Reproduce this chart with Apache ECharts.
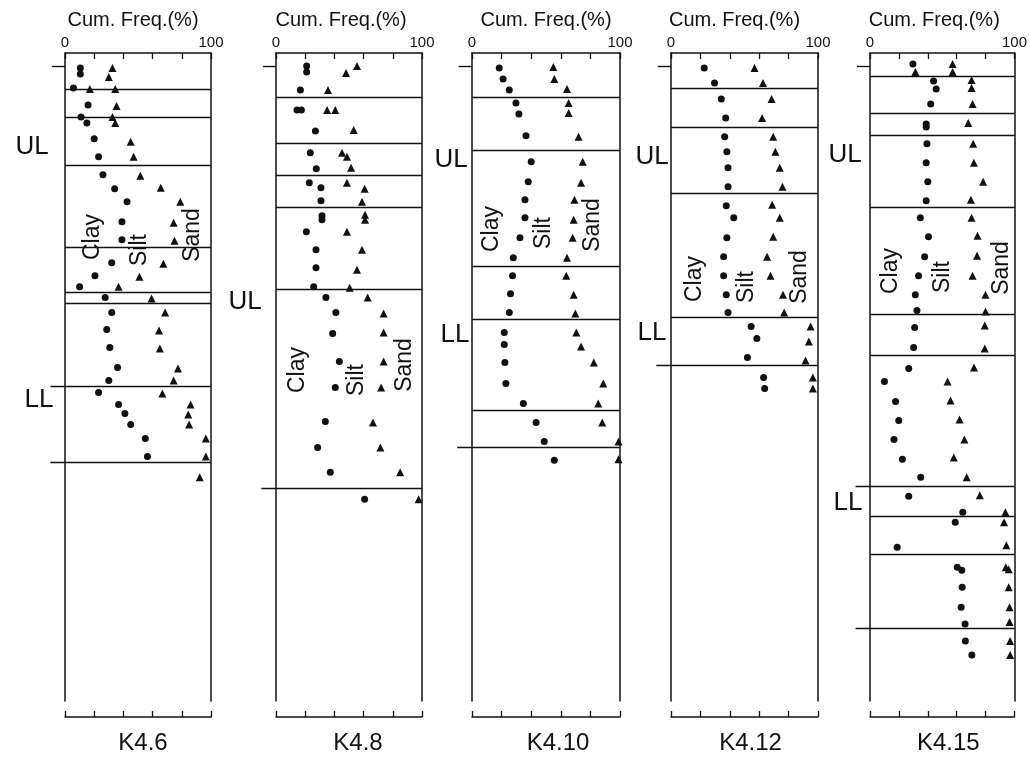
<!DOCTYPE html>
<html>
<head>
<meta charset="utf-8">
<script src="https://cdn.jsdelivr.net/npm/echarts@6/dist/echarts.min.js"></script>
<style>
html,body{margin:0;padding:0;background:#fff;}
#c{width:1030px;height:760px;}
</style>
</head>
<body>
<div id="c"></div>
<script>
// ---- Data: [cumulative frequency %, depth (arbitrary units from top mark)] ----
const cores = ['K4.6', 'K4.8', 'K4.10', 'K4.12', 'K4.15'];

const k46Clay = [[10.5,0.5],[10.5,2],[5.8,5.5],[15.8,9.75],[11,12.75],[15,14.25],[20,18.25],[23,22.75],[26,27.25],[34,30.75],[42.5,34],[39,39],[39,43.5],[32,49.25],[20.5,52.5],[10,55.25],[27.5,58],[32,61.75],[28.6,66],[30.7,70.5],[36,75.5],[30,78.75],[23,81.75],[36.7,84.75],[41,87],[45,89.75],[55,93.25],[56.5,97.75]];
const k46Silt = [[32.5,0.5],[30,2.75],[17,5.75],[34.4,5.75],[35.3,10],[32.5,12.75],[34.4,14.25],[45,19],[47,22.75],[51.6,27.5],[65.6,30.5],[79,34],[74.4,39.25],[75,43.75],[67.4,49.5],[51,52.75],[36.7,55.25],[59.3,58.25],[68.6,61.75],[64.4,66.25],[65,70.75],[77.4,75.75],[74.4,78.75],[66.7,82],[86,84.75],[84.4,87.25],[85,89.75],[96.5,93.25],[96.5,97.75],[92.3,103]];
const k46Layers = [5.75, 12.75, 24.75, 45.5, 56.75, 59.5];
const k46Marks = [80.25, 99.25];

const k48Clay = [[21,0],[21,1.5],[16.7,6],[14.4,11],[17.4,11],[27,16.25],[23.5,21.75],[27.6,25.75],[22.8,29.25],[30.8,30.5],[30.8,33.75],[31.5,37.5],[31.5,38.5],[20.8,41.5],[27.4,46],[27.4,50.5],[25.8,55.25],[34.2,58],[41,61.75],[38.8,67],[43.4,74],[40.6,80.5],[33.8,89],[28.5,95.5],[37.2,101.75],[60.7,108.5]];
const k48Silt = [[55.5,0],[48,1.75],[35.6,6],[35,11],[40.6,11],[53.2,16],[45.2,21.75],[48.6,22.75],[51.4,25.5],[48.6,29.25],[60.7,30.75],[58.9,34],[61,37.25],[61,38.5],[48.6,41.5],[58.9,46],[55.5,51],[50.5,55.5],[62.8,58],[73.7,62],[73.7,66.75],[73.7,74],[72,80.5],[66.4,89.25],[71.5,95.5],[85,101.75],[97.7,108.5]];
const k48Layers = [7.75, 19.25, 27.25, 35.25, 56];
const k48Marks = [105.75];

const k410Clay = [[18.4,0.5],[21,3.25],[25.2,6],[29.7,9.25],[31.7,12],[36.5,17.5],[40,24],[38,29],[35.8,33.5],[35.8,38],[32.4,43],[27.9,48],[27.4,52.5],[26,57],[25.2,61.75],[21.8,66.75],[21.8,69.75],[22.2,74.25],[22.9,79.5],[34.7,84.5],[43.3,89.25],[48.8,94],[55.6,98.75]];
const k410Silt = [[55,0.25],[55.6,3.25],[64.2,5.75],[65.3,9.25],[65.3,11.75],[72,17.75],[74.8,24],[73.7,29.25],[69.2,33.5],[68.7,38.5],[68,43],[64.2,48],[63.7,52.5],[68.7,57.25],[69.8,62],[70.5,66.75],[73.7,70.25],[82.3,74.25],[88.7,79.5],[85.3,84.5],[88,89.25],[99,94],[99,98.5]];
const k410Layers = [7.75, 21, 50.25, 63.5, 86.25];
const k410Marks = [95.5];

const k412Clay = [[22.6,0.5],[29.6,4.25],[34.2,8.25],[37.2,13],[36.5,17.75],[38,21.5],[38.8,25.5],[38.8,30.25],[37.6,35],[42.7,38],[38,43],[35.8,47.75],[35.8,52.5],[37.6,57.25],[38.8,61.75],[54.5,65.25],[58.4,68.25],[52,73],[63,78],[63.7,80.75]];
const k412Silt = [[56.8,0.5],[62.6,4.25],[68.4,8.25],[62,13],[69.5,17.75],[71,21.5],[74,25.5],[75.8,30.25],[68.8,34.75],[74,38],[69.5,42.75],[65.4,47.75],[67.7,52.5],[76.2,57.25],[77,61.75],[95,65.25],[93.8,69],[91.5,73.75],[96.5,78],[96.5,80.75]];
const k412Layers = [5.5, 15.25, 31.75, 63];
const k412Marks = [75];

const k415Clay = [[29.7,-0.5],[44,3.75],[45.8,5.75],[42,9.5],[38.9,14.5],[38.9,15.25],[39.4,19.5],[38.9,24.25],[40,29],[38.9,33.75],[34.8,38],[40.5,42.75],[37.8,47.75],[33.6,52.5],[31.4,57.25],[32.5,61.25],[30.9,65.5],[30.2,70.5],[26.8,75.75],[10,79],[17.7,84],[19.9,88.75],[16.6,93.5],[22.4,98.5],[35.1,103],[26.8,107.75],[64.2,111.75],[59,114.25],[18.8,120.5],[60.4,125.5],[63.5,126.25],[63.8,130.5],[63.1,135.5],[65.8,139.75],[66,144],[70.5,147.5]];
const k415Silt = [[31.4,1.5],[57.2,-0.5],[57.2,1.5],[70.3,3.5],[70.3,5.5],[71,9.5],[68,14.25],[71.4,19.5],[71.9,24.25],[78.3,29],[69.8,33.5],[70.3,38],[74.4,42.5],[74.1,47.5],[71,52.5],[79.9,57.25],[80,61.5],[79.4,65],[79.4,70.75],[72,75.5],[53.7,79],[55.7,83.75],[62,88.5],[65.3,93.5],[58,98],[66.9,103],[76,107.5],[93.7,111.75],[92.8,114.25],[94.4,120],[94,125.5],[96,126],[96,130.5],[96.6,135.5],[96.6,139.25],[97,144],[97,147.5]];
const k415Layers = [2.5, 11.75, 17.25, 35.25, 62.25, 72.5, 112.75, 122.25];
const k415Marks = [105.25, 140.75];

const freqTicks = [0, 100];

// ---- Layout ----
const panels = [
  {clay: k46Clay,  silt: k46Silt,  layers: k46Layers,  marks: k46Marks,  left: 65,  width: 146, tShift: -5,  bShift: 5},
  {clay: k48Clay,  silt: k48Silt,  layers: k48Layers,  marks: k48Marks,  left: 276, width: 146, tShift: -8,  bShift: 9},
  {clay: k410Clay, silt: k410Silt, layers: k410Layers, marks: k410Marks, left: 472, width: 148, tShift: 0,   bShift: 12},
  {clay: k412Clay, silt: k412Silt, layers: k412Layers, marks: k412Marks, left: 671, width: 147, tShift: -10, bShift: 6},
  {clay: k415Clay, silt: k415Silt, layers: k415Layers, marks: k415Marks, left: 870, width: 148, tShift: -8,  bShift: 6}
];
const INK = '#111';
const FONT = 'Liberation Sans, Arial, sans-serif';
const shiftPad = s => s < 0 ? [0, -2 * s, 0, 0] : [0, 0, 0, 2 * s];

const grid = [], xAxis = [], yAxis = [], series = [];
panels.forEach((p, i) => {
  grid.push({left: p.left, top: 53, width: p.width, height: 649, containLabel: false});
  xAxis.push({
    gridIndex: i, type: 'value', position: 'top', min: 0, max: 100, interval: 20,
    axisLine: {show: true, onZero: false, lineStyle: {color: INK, width: 1.5}},
    axisTick: {show: true, inside: true, length: 6, lineStyle: {color: INK, width: 1.3}},
    axisLabel: {show: true, margin: 3, color: INK, fontSize: 15, fontFamily: FONT,
      formatter: v => freqTicks.indexOf(v) >= 0 ? String(v) : ''},
    splitLine: {show: false},
    name: 'Cum. Freq.(%)', nameLocation: 'middle', nameGap: 20,
    nameTextStyle: {color: INK, fontSize: 20, fontFamily: FONT, padding: shiftPad(p.tShift)}
  });
  xAxis.push({
    gridIndex: i, type: 'value', position: 'bottom', offset: 16, min: 0, max: 100, interval: 20,
    axisLine: {show: true, onZero: false, lineStyle: {color: INK, width: 1.5}},
    axisTick: {show: true, inside: true, length: 6, lineStyle: {color: INK, width: 1.3}},
    axisLabel: {show: false},
    splitLine: {show: false},
    name: cores[i], nameLocation: 'middle', nameGap: 14,
    nameTextStyle: {color: INK, fontSize: 24, fontFamily: FONT, padding: shiftPad(p.bShift)}
  });
  ['left', 'right'].forEach(pos => {
    yAxis.push({
      gridIndex: i, type: 'value', position: pos, inverse: true, min: -3.25, max: 159,
      axisLine: {show: true, onZero: false, lineStyle: {color: INK, width: 1.5}},
      axisTick: {show: false}, axisLabel: {show: false}, splitLine: {show: false}
    });
  });
  const segs = [];
  p.layers.forEach(d => segs.push({coords: [[0, d], [100, d]]}));
  p.marks.forEach(d => segs.push({coords: [[-10, d], [100, d]]}));
  segs.push({coords: [[-9, 0], [0, 0]]});
  series.push({
    type: 'lines', coordinateSystem: 'cartesian2d', xAxisIndex: 2 * i, yAxisIndex: 2 * i,
    clip: false, silent: true, polyline: false,
    lineStyle: {color: INK, width: 1.4, opacity: 1, curveness: 0},
    data: segs
  });
  series.push({
    type: 'scatter', name: 'Clay', xAxisIndex: 2 * i, yAxisIndex: 2 * i,
    symbol: 'circle', symbolSize: 7, itemStyle: {color: INK, opacity: 1}, data: p.clay, clip: false
  });
  series.push({
    type: 'scatter', name: 'Silt', xAxisIndex: 2 * i, yAxisIndex: 2 * i,
    symbol: 'triangle', symbolSize: 8, itemStyle: {color: INK, opacity: 1}, data: p.silt, clip: false
  });
});

// ---- Annotations ----
const notes = [
  ['UL', 32, 147, 0, 26], ['LL', 39, 400, 0, 26],
  ['Clay', 93, 237, 1, 23], ['Silt', 140, 250, 1, 23], ['Sand', 193, 235, 1, 23],
  ['UL', 245, 302, 0, 26],
  ['Clay', 298, 370, 1, 23], ['Silt', 357, 380, 1, 23], ['Sand', 405, 365, 1, 23],
  ['UL', 451, 160, 0, 26], ['LL', 455, 335, 0, 26],
  ['Clay', 492, 229, 1, 23], ['Silt', 544, 233, 1, 23], ['Sand', 593, 225, 1, 23],
  ['UL', 652, 157, 0, 26], ['LL', 652, 333, 0, 26],
  ['Clay', 695, 279, 1, 23], ['Silt', 747, 287, 1, 23], ['Sand', 800, 277, 1, 23],
  ['UL', 845, 155, 0, 26], ['LL', 848, 503, 0, 26],
  ['Clay', 891, 271, 1, 23], ['Silt', 943, 277, 1, 23], ['Sand', 1002, 268, 1, 23]
];
const graphic = notes.map(n => ({
  type: 'text', x: n[1], y: n[2], rotation: n[3] ? Math.PI / 2 : 0, silent: true,
  style: {text: n[0], fill: INK, font: n[4] + 'px ' + FONT,
    textAlign: 'center', textVerticalAlign: 'middle', align: 'center', verticalAlign: 'middle'}
}));

const chart = echarts.init(document.getElementById('c'), null, {renderer: 'canvas'});
chart.setOption({
  backgroundColor: '#fff',
  animation: false,
  grid, xAxis, yAxis, series, graphic
});
</script>
</body>
</html>
